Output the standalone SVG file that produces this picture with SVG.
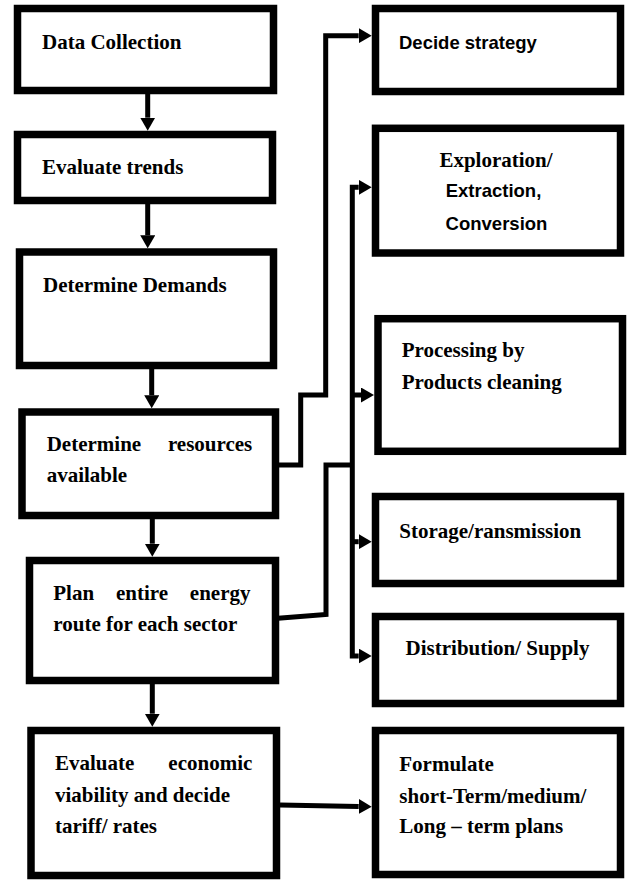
<svg xmlns="http://www.w3.org/2000/svg" width="629" height="880" viewBox="0 0 629 880">
<style>
.box{fill:#fff;stroke:#000;stroke-width:7.5}
.t{font-family:"Liberation Serif","Times New Roman",serif;font-weight:bold;font-size:21px;fill:#000}
.s{font-family:"Liberation Sans",Arial,sans-serif;font-weight:bold;font-size:18.5px;fill:#000}
.c{fill:none;stroke:#000;stroke-width:5;stroke-linejoin:miter}
</style>
<defs>
<marker id="ah" viewBox="0 0 13 15" refX="0" refY="7.5" markerWidth="13" markerHeight="15" markerUnits="userSpaceOnUse" orient="auto-start-reverse">
<path d="M0,0 L13,7.5 L0,15 z" fill="#000"/>
</marker>
</defs>
<rect width="629" height="880" fill="#fff"/>
<g id="connectors">
<path class="c" d="M147.7,94 V117.7" marker-end="url(#ah)"/>
<path class="c" d="M147.7,204 V235.3" marker-end="url(#ah)"/>
<path class="c" d="M151.7,369 V395.3" marker-end="url(#ah)"/>
<path class="c" d="M152.3,519 V543.7" marker-end="url(#ah)"/>
<path class="c" d="M152.3,684 V713.7" marker-end="url(#ah)"/>
<path class="c" d="M278,465 H300.7 V395 H325.7 V35.7 H358.7" marker-end="url(#ah)"/>
<path class="c" d="M278,618.3 L326,614.5 V465 H352.3"/>
<path class="c" d="M358.7,187.3 H352.3 V656 H358.7" marker-start="url(#ah)" marker-end="url(#ah)"/>
<path class="c" d="M352.3,395 H361" marker-end="url(#ah)"/>
<path class="c" d="M352.3,541.7 H358.7" marker-end="url(#ah)"/>
<path class="c" d="M280,805 L358.7,806.5" marker-end="url(#ah)"/>
</g>
<g id="data-collection">
<rect class="box" x="17.5" y="8.5" width="256" height="82"/>
<text class="t" x="42" y="49">Data Collection</text>
</g>
<g id="evaluate-trends">
<rect class="box" x="17.5" y="134.5" width="255" height="66"/>
<text class="t" x="42" y="174">Evaluate trends</text>
</g>
<g id="determine-demands">
<rect class="box" x="19.5" y="252" width="254" height="113.5"/>
<text class="t" x="43" y="292.3">Determine Demands</text>
</g>
<g id="determine-resources">
<rect class="box" x="22" y="412" width="253.5" height="103.5"/>
<text class="t" x="46.7" y="450.7">Determine</text>
<text class="t" x="252.3" y="450.7" text-anchor="end">resources</text>
<text class="t" x="46.7" y="482.3">available</text>
</g>
<g id="plan-route">
<rect class="box" x="29.5" y="560.5" width="246" height="120"/>
<text class="t" x="53.3" y="600">Plan</text>
<text class="t" x="142" y="600" text-anchor="middle">entire</text>
<text class="t" x="250.5" y="600" text-anchor="end">energy</text>
<text class="t" x="53.3" y="630.7">route for each sector</text>
</g>
<g id="evaluate-economic">
<rect class="box" x="31" y="730.5" width="245.5" height="145"/>
<text class="t" x="55" y="770">Evaluate</text>
<text class="t" x="252.3" y="770" text-anchor="end">economic</text>
<text class="t" x="55" y="801.7">viability and decide</text>
<text class="t" x="55" y="833.3">tariff/ rates</text>
</g>
<g id="decide-strategy">
<rect class="box" x="375.5" y="8.5" width="245" height="83"/>
<text class="s" x="399" y="49.3">Decide strategy</text>
</g>
<g id="exploration">
<rect class="box" x="375.5" y="128.3" width="245" height="124.7"/>
<text class="t" x="496" y="166.7" text-anchor="middle">Exploration/</text>
<text class="s" x="493.5" y="196.7" text-anchor="middle">Extraction,</text>
<text class="s" x="496.5" y="230" text-anchor="middle">Conversion</text>
</g>
<g id="processing">
<rect class="box" x="378" y="318.7" width="244.5" height="132.6"/>
<text class="t" x="401.7" y="356.7">Processing by</text>
<text class="t" x="401.7" y="389.3">Products cleaning</text>
</g>
<g id="storage">
<rect class="box" x="375.5" y="496.5" width="245" height="87"/>
<text class="t" x="399.3" y="538.3">Storage/ransmission</text>
</g>
<g id="distribution">
<rect class="box" x="375.5" y="616.5" width="245" height="87"/>
<text class="t" x="497.5" y="655" text-anchor="middle">Distribution/ Supply</text>
</g>
<g id="formulate">
<rect class="box" x="375.5" y="730.5" width="245" height="144"/>
<text class="t" x="399.3" y="770.7">Formulate</text>
<text class="t" x="399.3" y="802.7">short-Term/medium/</text>
<text class="t" x="399.3" y="833.3">Long – term plans</text>
</g>
</svg>
